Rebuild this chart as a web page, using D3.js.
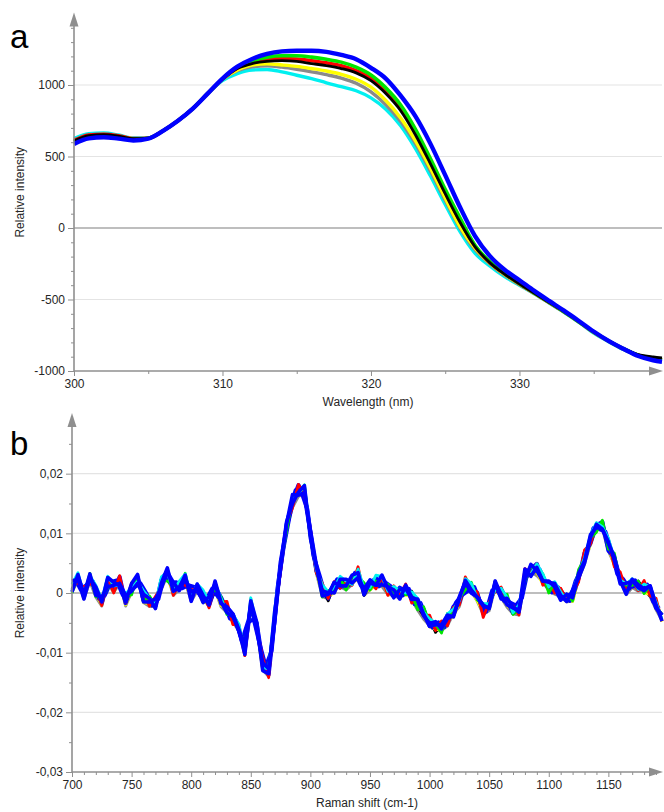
<!DOCTYPE html>
<html>
<head>
<meta charset="utf-8">
<script src="https://cdn.jsdelivr.net/npm/d3@7"></script>
<style>
  html, body { margin: 0; padding: 0; background: #fff; }
  svg { display: block; font-family: "Liberation Sans", Arial, sans-serif; }
</style>
</head>
<body>
<svg id="chart" width="664" height="812"></svg>
<script>
// ---------- Panel a: spectra vs wavelength ----------
const wavelength = [300,301,302,303,304,305,306,307,308,309,310,311,312,313,314,315,316,317,318,319,
  320,321,322,323,324,325,326,327,328,329,330,331,332,333,334,335,336,337,338,339,339.6];

const uvCyan   = [625,660,665,650,630,630,680,750,835,940,1030,1080,1105,1108,1092,1068,1045,1015,988,960,
  910,830,715,555,365,165,-25,-175,-265,-340,-400,-460,-525,-590,-660,-735,-795,-850,-893,-915,-925];
const uvGray   = [607,645,650,640,622,628,680,750,835,940,1040,1100,1128,1135,1125,1110,1092,1072,1048,1012,
  952,862,745,590,400,195,0,-150,-250,-330,-395,-458,-522,-587,-657,-730,-792,-847,-891,-913,-922];
const uvYellow = [610,648,655,643,624,628,680,750,835,940,1040,1105,1140,1148,1140,1130,1115,1098,1075,1040,
  985,892,770,610,420,210,10,-140,-245,-325,-392,-456,-520,-586,-656,-729,-791,-846,-890,-912,-921];
const uvRed    = [612,650,656,645,625,628,680,750,835,940,1042,1120,1160,1180,1185,1182,1170,1155,1135,1100,
  1045,955,835,670,465,250,50,-125,-240,-320,-390,-455,-520,-585,-655,-728,-790,-845,-890,-912,-920];
const uvGreen  = [603,640,645,637,620,627,680,750,835,940,1042,1125,1170,1195,1205,1205,1195,1180,1160,1125,
  1070,980,860,690,485,270,70,-120,-235,-318,-388,-454,-519,-585,-655,-728,-789,-844,-889,-911,-920];
const uvBlack  = [608,646,652,642,624,628,680,750,835,940,1040,1115,1150,1165,1170,1165,1150,1135,1115,1085,
  1030,940,820,650,450,240,40,-130,-242,-322,-391,-455,-520,-585,-655,-728,-790,-843,-885,-902,-908];
const uvBlue   = [588,627,635,625,612,625,680,750,835,940,1045,1128,1182,1217,1235,1240,1240,1232,1210,1180,
  1120,1045,925,780,590,370,145,-55,-195,-292,-365,-440,-510,-578,-650,-724,-790,-845,-895,-925,-935];

const uvXTicks = [300, 310, 320, 330];
const uvYTicks = [-1000, -500, 0, 500, 1000];

// ---------- Panel b: spectra vs Raman shift ----------
const ramanShift = [700,705,710,715,720,725,730,735,740,745,750,755,760,765,770,775,780,785,790,795,
  800,805,810,815,820,825,830,835,840,845,850,855,860,865,870,875,880,885,890,895,
  900,905,910,915,920,925,930,935,940,945,950,955,960,965,970,975,980,985,990,995,
  1000,1005,1010,1015,1020,1025,1030,1035,1040,1045,1050,1055,1060,1065,1070,1075,1080,1085,1090,1095,
  1100,1105,1110,1115,1120,1125,1130,1135,1140,1145,1150,1155,1160,1165,1170,1175,1180,1185,1190,1195];
// one trace recorded on the intermediate grid
const ramanShiftMid = [702.5,707.5,712.5,717.5,722.5,727.5,732.5,737.5,742.5,747.5,752.5,757.5,762.5,767.5,772.5,777.5,782.5,787.5,792.5,797.5,
  802.5,807.5,812.5,817.5,822.5,827.5,832.5,837.5,842.5,847.5,852.5,857.5,862.5,867.5,872.5,877.5,882.5,887.5,892.5,897.5,
  902.5,907.5,912.5,917.5,922.5,927.5,932.5,937.5,942.5,947.5,952.5,957.5,962.5,967.5,972.5,977.5,982.5,987.5,992.5,997.5,
  1002.5,1007.5,1012.5,1017.5,1022.5,1027.5,1032.5,1037.5,1042.5,1047.5,1052.5,1057.5,1062.5,1067.5,1072.5,1077.5,1082.5,1087.5,1092.5,1097.5,
  1102.5,1107.5,1112.5,1117.5,1122.5,1127.5,1132.5,1137.5,1142.5,1147.5,1152.5,1157.5,1162.5,1167.5,1172.5,1177.5,1182.5,1187.5,1192.5];

const ramanGray = [2e-4,20e-4,-10e-4,19e-4,-7e-4,-22e-4,16e-4,1e-4,16e-4,-22e-4,
  2e-4,23e-4,-16e-4,-23e-4,-23e-4,6e-4,30e-4,-4e-4,6e-4,18e-4,
  -14e-4,3e-4,-9e-4,-23e-4,5e-4,-23e-4,-33e-4,-49e-4,-64e-4,-105e-4,
  -21e-4,-62e-4,-129e-4,-140e-4,-42e-4,37e-4,107e-4,143e-4,162e-4,166e-4,
  93e-4,33e-4,-6e-4,-10e-4,7e-4,10e-4,5e-4,14e-4,30e-4,-4e-4,
  5e-4,14e-4,11e-4,-3e-4,-3e-4,-10e-4,5e-4,-11e-4,-29e-4,-44e-4,
  -55e-4,-62e-4,-63e-4,-55e-4,-35e-4,-23e-4,12e-4,3e-4,-14e-4,-36e-4,
  -30e-4,8e-4,-8e-4,-24e-4,-35e-4,-37e-4,21e-4,35e-4,29e-4,19e-4,
  4e-4,-2e-4,-6e-4,-15e-4,-14e-4,23e-4,48e-4,82e-4,109e-4,107e-4,
  70e-4,48e-4,21e-4,-3e-4,9e-4,3e-4,5e-4,-6e-4,-28e-4,-46e-4];
const ramanBlack = [6e-4,28e-4,-6e-4,27e-4,0,-18e-4,24e-4,3e-4,24e-4,-15e-4,
  1e-4,28e-4,-14e-4,-10e-4,-22e-4,18e-4,26e-4,16e-4,10e-4,17e-4,
  0,3e-4,0,-17e-4,2e-4,-10e-4,-30e-4,-38e-4,-62e-4,-92e-4,
  -24e-4,-50e-4,-129e-4,-131e-4,-42e-4,51e-4,106e-4,158e-4,167e-4,178e-4,
  96e-4,36e-4,7e-4,-13e-4,15e-4,15e-4,22e-4,15e-4,36e-4,-4e-4,
  15e-4,12e-4,28e-4,3e-4,-5e-4,5e-4,4e-4,3e-4,-23e-4,-38e-4,
  -44e-4,-66e-4,-53e-4,-50e-4,-23e-4,-16e-4,18e-4,1e-4,1e-4,-32e-4,
  -25e-4,20e-4,-7e-4,-9e-4,-34e-4,-24e-4,22e-4,40e-4,34e-4,30e-4,
  9e-4,17e-4,-7e-4,-4e-4,-12e-4,31e-4,58e-4,94e-4,104e-4,120e-4,
  76e-4,62e-4,19e-4,11e-4,10e-4,20e-4,7e-4,-5e-4,-14e-4,-47e-4];
const ramanYellow = [4e-4,23e-4,-9e-4,23e-4,-3e-4,-20e-4,19e-4,1e-4,21e-4,-20e-4,
  4e-4,26e-4,-16e-4,-18e-4,-25e-4,17e-4,23e-4,3e-4,13e-4,14e-4,
  -6e-4,4e-4,-16e-4,-14e-4,6e-4,-21e-4,-26e-4,-52e-4,-56e-4,-100e-4,
  -26e-4,-58e-4,-130e-4,-134e-4,-46e-4,43e-4,104e-4,155e-4,168e-4,163e-4,
  103e-4,34e-4,0,-6e-4,0,20e-4,9e-4,17e-4,23e-4,5e-4,
  5e-4,14e-4,23e-4,-3e-4,0,-6e-4,-3e-4,-6e-4,-25e-4,-30e-4,
  -57e-4,-61e-4,-62e-4,-45e-4,-40e-4,-16e-4,16e-4,4e-4,-13e-4,-32e-4,
  -17e-4,5e-4,-5e-4,-21e-4,-30e-4,-33e-4,22e-4,40e-4,34e-4,15e-4,
  11e-4,4e-4,-9e-4,-7e-4,-14e-4,23e-4,58e-4,80e-4,112e-4,109e-4,
  77e-4,45e-4,27e-4,1e-4,11e-4,11e-4,1e-4,-3e-4,-18e-4,-48e-4];
const ramanRed = [17e-4,16e-4,10e-4,16e-4,10e-4,-21e-4,25e-4,0,29e-4,-16e-4,
  17e-4,16e-4,1e-4,-22e-4,-6e-4,10e-4,40e-4,-4e-4,16e-4,13e-4,
  6e-4,4e-4,1e-4,-25e-4,19e-4,-15e-4,-14e-4,-53e-4,-53e-4,-105e-4,
  -10e-4,-61e-4,-108e-4,-142e-4,-36e-4,36e-4,119e-4,143e-4,182e-4,165e-4,
  107e-4,34e-4,16e-4,-9e-4,19e-4,8e-4,20e-4,13e-4,44e-4,-1e-4,
  20e-4,7e-4,26e-4,-4e-4,12e-4,-3e-4,15e-4,-17e-4,-11e-4,-38e-4,
  -37e-4,-63e-4,-47e-4,-55e-4,-24e-4,-20e-4,27e-4,6e-4,2e-4,-41e-4,
  -15e-4,3e-4,10e-4,-18e-4,-22e-4,-37e-4,41e-4,33e-4,49e-4,13e-4,
  18e-4,0,8e-4,-12e-4,2e-4,18e-4,72e-4,82e-4,117e-4,106e-4,
  88e-4,44e-4,35e-4,5e-4,21e-4,4e-4,21e-4,-5e-4,-9e-4,-47e-4];
const ramanGreen = [0,31e-4,-4e-4,33e-4,-6e-4,-7e-4,8e-4,17e-4,13e-4,-5e-4,
  -3e-4,30e-4,-14e-4,-5e-4,-21e-4,23e-4,20e-4,13e-4,5e-4,33e-4,
  -10e-4,12e-4,-16e-4,-5e-4,6e-4,-6e-4,-36e-4,-37e-4,-60e-4,-85e-4,
  -27e-4,-50e-4,-127e-4,-123e-4,-44e-4,48e-4,103e-4,162e-4,166e-4,181e-4,
  92e-4,46e-4,-7e-4,4e-4,7e-4,24e-4,5e-4,28e-4,27e-4,17e-4,
  5e-4,20e-4,13e-4,15e-4,-2e-4,7e-4,-3e-4,0,-28e-4,-23e-4,
  -51e-4,-52e-4,-67e-4,-34e-4,-35e-4,-8e-4,5e-4,18e-4,-12e-4,-18e-4,
  -22e-4,17e-4,-9e-4,-2e-4,-36e-4,-27e-4,19e-4,46e-4,36e-4,32e-4,
  0,17e-4,-7e-4,-2e-4,-13e-4,39e-4,57e-4,92e-4,102e-4,122e-4,
  74e-4,67e-4,16e-4,13e-4,13e-4,20e-4,-1e-4,12e-4,-22e-4,-36e-4];
const ramanCyan = [15e-4,34e-4,-3e-4,29e-4,13e-4,-11e-4,28e-4,12e-4,13e-4,-2e-4,
  10e-4,19e-4,4e-4,-9e-4,-20e-4,27e-4,35e-4,2e-4,20e-4,32e-4,
  -8e-4,15e-4,5e-4,-15e-4,17e-4,-9e-4,-33e-4,-36e-4,-52e-4,-98e-4,
  -8e-4,-54e-4,-125e-4,-127e-4,-28e-4,43e-4,119e-4,159e-4,165e-4,181e-4,
  102e-4,38e-4,14e-4,2e-4,9e-4,28e-4,20e-4,14e-4,40e-4,8e-4,
  9e-4,30e-4,28e-4,3e-4,11e-4,4e-4,0,2e-4,-9e-4,-32e-4,
  -43e-4,-50e-4,-60e-4,-35e-4,-27e-4,-13e-4,24e-4,16e-4,-9e-4,-18e-4,
  -18e-4,5e-4,8e-4,-7e-4,-33e-4,-20e-4,31e-4,32e-4,49e-4,32e-4,
  10e-4,19e-4,2e-4,-13e-4,3e-4,31e-4,59e-4,98e-4,118e-4,111e-4,
  92e-4,57e-4,22e-4,15e-4,24e-4,6e-4,15e-4,10e-4,-15e-4,-44e-4];
const ramanBlue1 = [14e-4,20e-4,7e-4,20e-4,7e-4,-17e-4,22e-4,4e-4,27e-4,-17e-4,
  12e-4,26e-4,-12e-4,-10e-4,-22e-4,22e-4,23e-4,10e-4,17e-4,17e-4,
  0,8e-4,1e-4,-21e-4,10e-4,-7e-4,-29e-4,-36e-4,-63e-4,-93e-4,
  -25e-4,-51e-4,-115e-4,-137e-4,-45e-4,52e-4,109e-4,155e-4,181e-4,163e-4,
  102e-4,37e-4,10e-4,-9e-4,17e-4,9e-4,19e-4,20e-4,27e-4,10e-4,
  10e-4,25e-4,15e-4,9e-4,-2e-4,9e-4,3e-4,-3e-4,-22e-4,-27e-4,
  -55e-4,-54e-4,-55e-4,-50e-4,-23e-4,-16e-4,17e-4,1e-4,0,-32e-4,
  -16e-4,7e-4,7e-4,-12e-4,-34e-4,-25e-4,23e-4,40e-4,49e-4,20e-4,
  16e-4,6e-4,-9e-4,-3e-4,-5e-4,24e-4,67e-4,83e-4,114e-4,119e-4,
  71e-4,60e-4,23e-4,15e-4,11e-4,12e-4,5e-4,6e-4,-25e-4,-37e-4];
const ramanBlue2 = [2e-4,31e-4,-3e-4,32e-4,-4e-4,-7e-4,10e-4,13e-4,16e-4,-4e-4,
  3e-4,16e-4,-2e-4,-9e-4,-26e-4,17e-4,42e-4,3e-4,9e-4,30e-4,
  -14e-4,15e-4,-4e-4,-20e-4,20e-4,-15e-4,-33e-4,-40e-4,-63e-4,-85e-4,
  -20e-4,-61e-4,-117e-4,-127e-4,-50e-4,47e-4,119e-4,150e-4,169e-4,180e-4,
  92e-4,45e-4,3e-4,1e-4,0,23e-4,23e-4,17e-4,26e-4,7e-4,
  22e-4,13e-4,14e-4,11e-4,5e-4,-10e-4,13e-4,-7e-4,-12e-4,-38e-4,
  -51e-4,-48e-4,-60e-4,-43e-4,-38e-4,-6e-4,18e-4,0,-7e-4,-22e-4,
  -25e-4,17e-4,-10e-4,-9e-4,-24e-4,-32e-4,22e-4,48e-4,37e-4,20e-4,
  20e-4,10e-4,-12e-4,-2e-4,-8e-4,33e-4,54e-4,98e-4,110e-4,107e-4,
  83e-4,61e-4,20e-4,-2e-4,23e-4,14e-4,7e-4,12e-4,-24e-4,-37e-4];
const ramanBlue3 = [20e-4,23e-4,-10e-4,25e-4,10e-4,-15e-4,26e-4,18e-4,12e-4,-15e-4,
  16e-4,31e-4,-15e-4,-15e-4,-10e-4,9e-4,35e-4,18e-4,4e-4,24e-4,
  2e-4,7e-4,-16e-4,-6e-4,15e-4,-18e-4,-23e-4,-35e-4,-61e-4,-103e-4,
  -13e-4,-49e-4,-130e-4,-135e-4,-32e-4,40e-4,116e-4,165e-4,164e-4,168e-4,
  106e-4,47e-4,-5e-4,-2e-4,18e-4,12e-4,12e-4,30e-4,34e-4,-3e-4,
  17e-4,13e-4,30e-4,8e-4,-8e-4,6e-4,8e-4,-11e-4,-10e-4,-35e-4,
  -56e-4,-53e-4,-53e-4,-37e-4,-40e-4,-9e-4,21e-4,5e-4,-7e-4,-20e-4,
  -26e-4,20e-4,-3e-4,-20e-4,-25e-4,-28e-4,40e-4,28e-4,43e-4,20e-4,
  18e-4,16e-4,-4e-4,-14e-4,5e-4,25e-4,50e-4,93e-4,115e-4,107e-4,
  86e-4,55e-4,15e-4,16e-4,20e-4,9e-4,4e-4,12e-4,-20e-4,-47e-4];
const ramanBlue4 = [24e-4,5e-4,14e-4,19e-4,-9e-4,-4e-4,18e-4,21e-4,-3e-4,0,
  10e-4,16e-4,-1e-4,-21e-4,-10e-4,30e-4,17e-4,18e-4,8e-4,13e-4,
  10e-4,-4e-4,-12e-4,7e-4,-6e-4,-16e-4,-43e-4,-46e-4,-81e-4,-49e-4,
  -44e-4,-86e-4,-123e-4,-97e-4,9e-4,76e-4,128e-4,172e-4,169e-4,140e-4,
  63e-4,31e-4,-4e-4,6e-4,23e-4,11e-4,13e-4,34e-4,12e-4,11e-4,
  21e-4,11e-4,18e-4,11e-4,-2e-4,-4e-4,7e-4,-19e-4,-17e-4,-42e-4,
  -58e-4,-49e-4,-57e-4,-35e-4,-15e-4,-3e-4,4e-4,10e-4,-16e-4,-31e-4,
  4e-4,3e-4,-13e-4,-16e-4,-21e-4,-8e-4,38e-4,37e-4,39e-4,14e-4,
  1e-4,10e-4,-2e-4,-13e-4,20e-4,40e-4,72e-4,109e-4,107e-4,103e-4,
  71e-4,32e-4,23e-4,7e-4,21e-4,8e-4,14e-4,-14e-4,-26e-4];

const ramanXTicks = [700, 750, 800, 850, 900, 950, 1000, 1050, 1100, 1150];
const ramanYTicks = [-0.03, -0.02, -0.01, 0, 0.01, 0.02];

// ---------- drawing ----------
const svg = d3.select("#chart");
const AXIS = "#8f8f8f", GRID = "#e4e4e4", ZERO = "#a8a8a8", TEXT = "#262626";
const locale = d3.formatLocale({ decimal: ",", thousands: " ", grouping: [3], currency: ["", ""], minus: "-" });

function drawPanel(opt) {
  const { x, y, series, xTicks, yTicks, xMinor, yMinor, fmtX, fmtY, xTitle, yTitle, letter, letterY, curve } = opt;
  const [x0, x1] = x.range();
  const [yb, yt] = y.range();
  const g = svg.append("g");

  // horizontal grid lines, zero line emphasised
  g.append("g").selectAll("line")
    .data(yTicks.filter(v => v !== y.domain()[0]))
    .join("line")
    .attr("x1", x0).attr("x2", x1)
    .attr("y1", d => y(d)).attr("y2", d => y(d))
    .attr("stroke", d => d === 0 ? ZERO : GRID)
    .attr("stroke-width", d => d === 0 ? 1.6 : 1.2);

  // spectra
  const line = d3.line().x(d => x(d[0])).y(d => y(d[1])).curve(curve);
  g.append("g").selectAll("path")
    .data(series)
    .join("path")
    .attr("fill", "none")
    .attr("stroke", s => s.color)
    .attr("stroke-width", s => s.width)
    .attr("stroke-linejoin", "round")
    .attr("d", s => line(d3.zip(s.xs, s.values)));

  // axes: minor ticks, major ticks with labels
  const styleAxis = sel => {
    sel.select(".domain").remove();
    sel.selectAll(".tick line").attr("stroke", AXIS);
    sel.selectAll(".tick text").attr("fill", TEXT).style("font-size", "12px");
  };
  g.append("g").attr("transform", `translate(${x0},0)`)
    .call(d3.axisLeft(y).tickValues(yMinor).tickSize(3).tickFormat("")).call(styleAxis);
  g.append("g").attr("transform", `translate(${x0},0)`)
    .call(d3.axisLeft(y).tickValues(yTicks).tickSize(6).tickPadding(3).tickFormat(fmtY)).call(styleAxis);
  g.append("g").attr("transform", `translate(0,${yb})`)
    .call(d3.axisBottom(x).tickValues(xMinor).tickSize(3).tickFormat("")).call(styleAxis);
  g.append("g").attr("transform", `translate(0,${yb})`)
    .call(d3.axisBottom(x).tickValues(xTicks).tickSize(5).tickPadding(3).tickFormat(fmtX)).call(styleAxis);

  // axis lines with arrow heads
  g.append("line").attr("x1", x0).attr("x2", x0).attr("y1", yb).attr("y2", yt + 6)
    .attr("stroke", AXIS).attr("stroke-width", 1.6);
  g.append("line").attr("x1", x0).attr("x2", x1 - 6).attr("y1", yb).attr("y2", yb)
    .attr("stroke", AXIS).attr("stroke-width", 1.6);
  g.append("path").attr("fill", AXIS)
    .attr("d", `M${x0},${yt - 1}L${x0 - 4.5},${yt + 13}L${x0 + 4.5},${yt + 13}Z`);
  g.append("path").attr("fill", AXIS)
    .attr("d", `M${x1 + 1},${yb}L${x1 - 13},${yb - 4.5}L${x1 - 13},${yb + 4.5}Z`);

  // titles
  g.append("text").attr("x", (x0 + x1) / 2).attr("y", yb + 35)
    .attr("text-anchor", "middle").attr("fill", TEXT).style("font-size", "12px").text(xTitle);
  g.append("text").attr("transform", `translate(24,${(yb + yt) / 2}) rotate(-90)`)
    .attr("text-anchor", "middle").attr("fill", TEXT).style("font-size", "12px").text(yTitle);
  g.append("text").attr("x", 10).attr("y", letterY)
    .attr("fill", "#000").style("font-size", "33px").text(letter);
}

const uvX = d3.scaleLinear().domain([300, 339.6]).range([74, 662]);
const uvY = d3.scaleLinear().domain([-1000, 1500]).range([371, 13.5]);
drawPanel({
  x: uvX, y: uvY,
  series: [
    { color: "#00f0f0", width: 3.4, xs: wavelength, values: uvCyan },
    { color: "#8a8a8a", width: 3.4, xs: wavelength, values: uvGray },
    { color: "#ffff00", width: 3.4, xs: wavelength, values: uvYellow },
    { color: "#ff0000", width: 3.6, xs: wavelength, values: uvRed },
    { color: "#00e600", width: 3.6, xs: wavelength, values: uvGreen },
    { color: "#000000", width: 2.8, xs: wavelength, values: uvBlack },
    { color: "#0000ff", width: 4.4, xs: wavelength, values: uvBlue }
  ],
  xTicks: uvXTicks, yTicks: uvYTicks,
  xMinor: [305, 315, 325, 335],
  yMinor: d3.range(-900, 1500, 100).filter(v => v % 500 !== 0),
  fmtX: d => String(d), fmtY: locale.format("d"),
  xTitle: "Wavelength (nm)", yTitle: "Relative intensity",
  letter: "a", letterY: 48, curve: d3.curveMonotoneX
});

const ramanX = d3.scaleLinear().domain([700, 1195]).range([72, 662]);
const ramanY = d3.scaleLinear().domain([-0.03, 0.03]).range([772, 414]);
drawPanel({
  x: ramanX, y: ramanY,
  series: [
    { color: "#8a8a8a", width: 2.8, xs: ramanShift, values: ramanGray },
    { color: "#000000", width: 2.8, xs: ramanShift, values: ramanBlack },
    { color: "#ffff00", width: 2.8, xs: ramanShift, values: ramanYellow },
    { color: "#0000ff", width: 4, xs: ramanShift, values: ramanBlue1 },
    { color: "#0000ff", width: 4, xs: ramanShiftMid, values: ramanBlue4 },
    { color: "#ff0000", width: 2.8, xs: ramanShift, values: ramanRed },
    { color: "#00e600", width: 2.8, xs: ramanShift, values: ramanGreen },
    { color: "#00f0f0", width: 2.8, xs: ramanShift, values: ramanCyan },
    { color: "#0000ff", width: 3.6, xs: ramanShift, values: ramanBlue2 },
    { color: "#0000ff", width: 3.6, xs: ramanShift, values: ramanBlue3 }
  ],
  xTicks: ramanXTicks, yTicks: ramanYTicks,
  xMinor: d3.range(710, 1195, 10).filter(v => v % 50 !== 0),
  yMinor: [-0.025, -0.015, -0.005, 0.005, 0.015, 0.025],
  fmtX: d => String(d), fmtY: locale.format("~g"),
  xTitle: "Raman shift (cm-1)", yTitle: "Relative intensity",
  letter: "b", letterY: 455, curve: d3.curveLinear
});
</script>
</body>
</html>
